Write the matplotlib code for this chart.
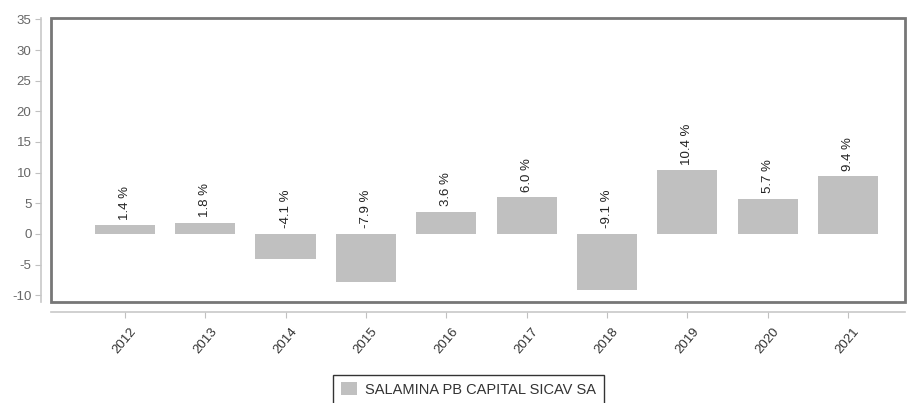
"""Rentabilidad anual SALAMINA PB CAPITAL SICAV SA 2012-2021."""

import matplotlib
matplotlib.use("Agg")
import matplotlib.pyplot as plt
from matplotlib.patches import Rectangle

anos = ["2012", "2013", "2014", "2015", "2016", "2017", "2018", "2019", "2020", "2021"]
rentabilidad = [1.4, 1.8, -4.1, -7.9, 3.6, 6.0, -9.1, 10.4, 5.7, 9.4]
serie = "SALAMINA PB CAPITAL SICAV SA"

plt.rcParams["font.family"] = ["Liberation Sans", "DejaVu Sans"]
plt.rcParams["axes.unicode_minus"] = False

fig = plt.figure(figsize=(9.17, 4.03), dpi=100)
ax = fig.add_axes([0.0556, 0.2506, 0.9314, 0.7044])

x = list(range(len(anos)))
ax.bar(x, rentabilidad, width=0.75, color="#c0c0c0", label=serie, zorder=2)

for xi, v in zip(x, rentabilidad):
    base = v if v > 0 else 0
    ax.annotate(f"{v:.1f} %", (xi, base), xytext=(0, 4), textcoords="offset points",
                rotation=90, ha="center", va="bottom", fontsize=9.5, color="#222222")

# ejes separados del recuadro
for lado in ("top", "right"):
    ax.spines[lado].set_visible(False)
ax.spines["left"].set_position(("outward", 7))
ax.spines["bottom"].set_position(("outward", 7))
for lado in ("left", "bottom"):
    ax.spines[lado].set_color("#c8c8c8")
    ax.spines[lado].set_linewidth(1.2)

ax.set_xlim(-0.92, 9.71)
ax.set_ylim(-11.1, 35.2)
ax.set_yticks(range(-10, 36, 5))
ax.set_xticks(x)
ax.set_xticklabels(anos, rotation=50, ha="center", fontsize=9.5, color="#333333")
ax.tick_params(axis="y", labelsize=9.5, colors="#c0c0c0", labelcolor="#666666",
               length=4, width=0.8, pad=3)
ax.tick_params(axis="x", length=4, width=0.8, colors="#c0c0c0", labelcolor="#333333", pad=6)

ax.add_patch(Rectangle((0, 0), 1, 1, transform=ax.transAxes, fill=False,
                       edgecolor="#777777", linewidth=2.0, clip_on=False, zorder=3))

fig.legend(loc="upper center", bbox_to_anchor=(0.511, 0.07), borderaxespad=0,
           fontsize=10.5, frameon=True, fancybox=False, edgecolor="black",
           handlelength=1.1, handleheight=1.0, handletextpad=0.6, borderpad=0.5,
           labelcolor="#333333")

plt.savefig("out.png", dpi=100)
print("Gráfico guardado: out.png")
